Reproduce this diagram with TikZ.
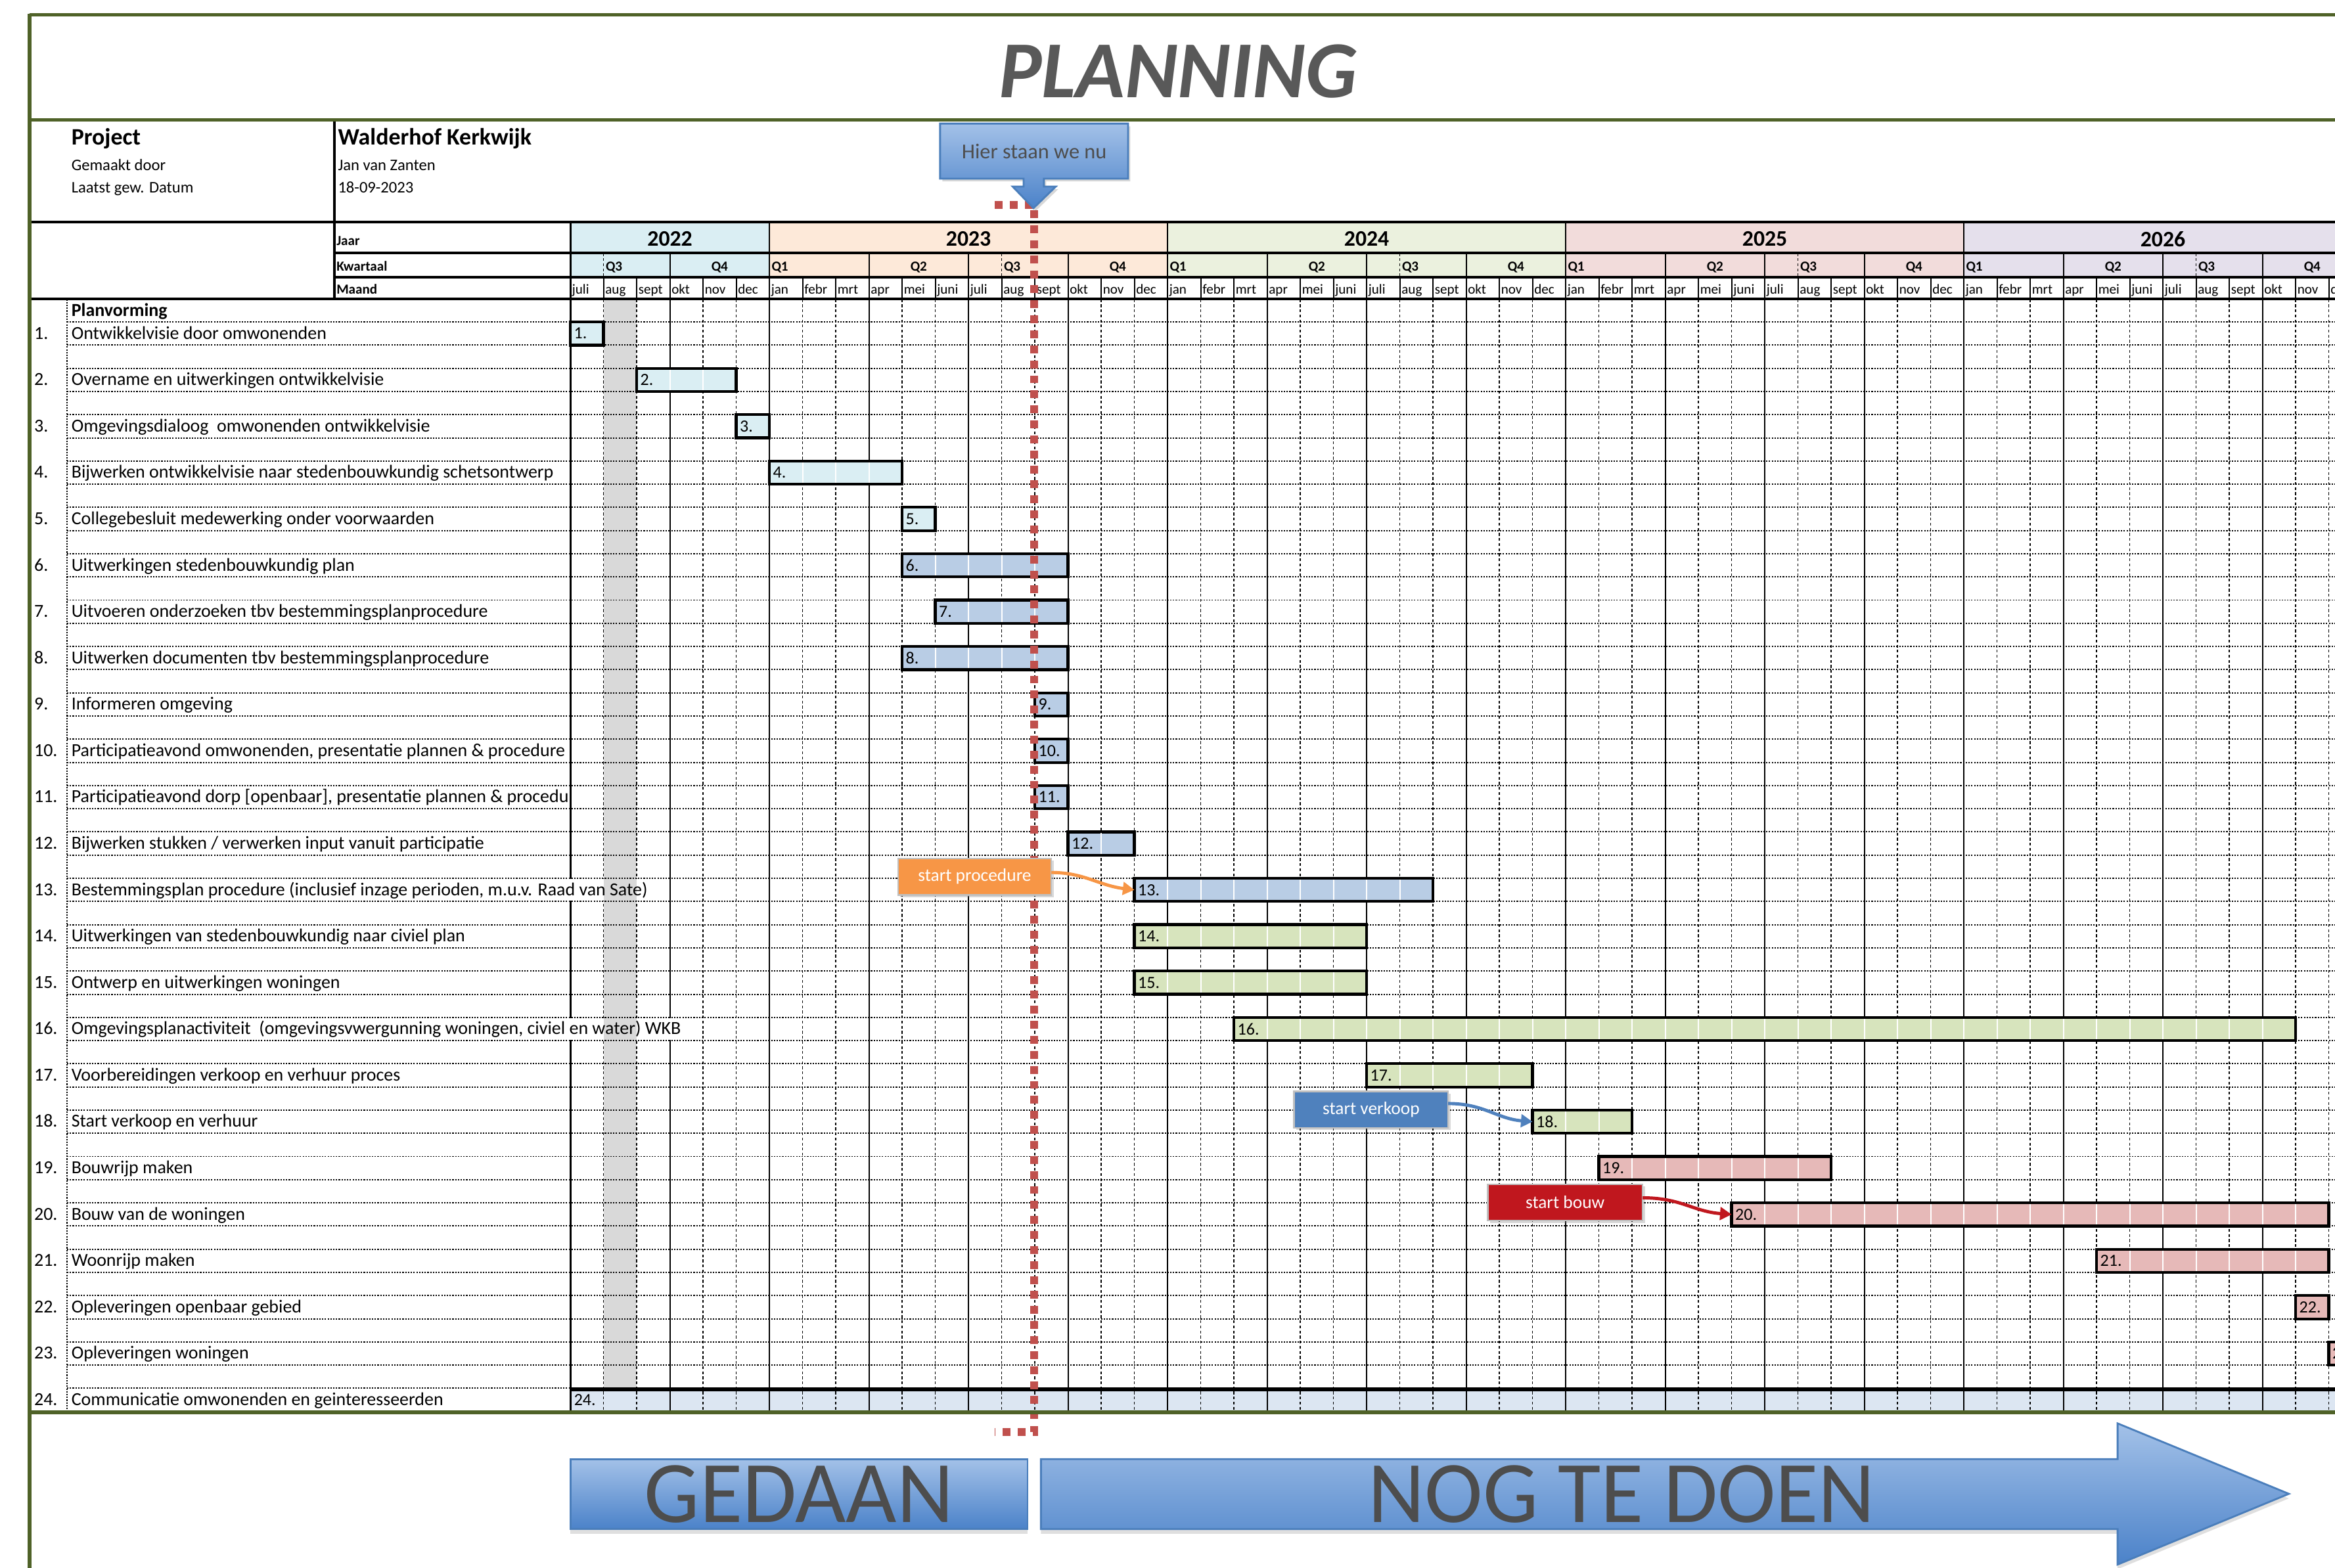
\documentclass[tikz,border=0pt]{standalone}
\usepackage{fontspec}
\setmainfont{Carlito}
\usetikzlibrary{arrows.meta,shadows}
\definecolor{framegreen}{HTML}{4F6228}
\definecolor{titlegray}{HTML}{595959}
\definecolor{yA}{HTML}{DAEEF3}
\definecolor{yB}{HTML}{FDE9D9}
\definecolor{yC}{HTML}{EBF1DE}
\definecolor{yD}{HTML}{F2DCDB}
\definecolor{yE}{HTML}{E5E0EC}
\definecolor{colgray}{HTML}{D9D9D9}
\definecolor{barcyan}{HTML}{DAEEF3}
\definecolor{barblue}{HTML}{B9CDE5}
\definecolor{bargreen}{HTML}{D7E4BD}
\definecolor{barpink}{HTML}{E6B9B8}
\definecolor{rowcomm}{HTML}{DCE6F2}
\definecolor{nowred}{HTML}{C0504D}
\definecolor{procorange}{HTML}{F79646}
\definecolor{salesblue}{HTML}{4F81BD}
\definecolor{buildred}{HTML}{C0171E}
\definecolor{hsTop}{HTML}{A3C1E8}
\definecolor{hsBot}{HTML}{4B82C9}
\definecolor{arrowedge}{HTML}{4A7EBB}
\definecolor{textdark}{HTML}{4D4D4D}
\definecolor{boxedge}{HTML}{BFBFBF}

\newcommand\tasknode[2]{%
  \node[tasktxt] (n#1) at (23,{224+31.14*(#1-1)+3.7}) {#1.};%
  \node[tasktxt] (t#1) at (48,{224+31.14*(#1-1)+3.7}) {#2};}

\newcommand\mkbar[4]{%
  \pgfmathsetmacro\bx{383+22.28*#2}%
  \pgfmathsetmacro\by{224+31.14*(#1-1)}%
  \node[ganttbar, fill=#4, minimum width={#3*22.28*0.022666cm}] (b#1) at (\bx,\by) {};%
  \ifnum#3>1
    \pgfmathtruncatemacro\bn{#3-1}%
    \foreach \j in {1,...,\bn}{\draw[white, line width=0.6pt] ({\bx+22.28*\j},{\by-6.9}) -- ({\bx+22.28*\j},{\by+6.9});}%
  \fi
  \node[barlbl, anchor=west] (bl#1) at ([xshift=1.6pt]b#1.west) {#1.};%
}

\begin{document}
\begin{tikzpicture}[x=0.022666cm, y=-0.022666cm,
  every node/.style={inner sep=0pt, outer sep=0pt},
  tasktxt/.style={anchor=base west, font=\fontsize{7.95}{9}\selectfont},
  hdrtxt/.style={anchor=base west, font=\fontsize{6}{7}\selectfont\bfseries},
  monthtxt/.style={anchor=base west, font=\fontsize{6}{7}\selectfont},
  qtxt/.style={font=\fontsize{6}{7}\selectfont\bfseries},
  yeartxt/.style={anchor=center, font=\fontsize{9.6}{11}\selectfont\bfseries},
  thickrule/.style={line width=1.1pt},
  gridsolid/.style={line width=0.55pt},
  griddash/.style={line width=0.45pt, dash pattern=on 1.2pt off 1pt},
  rowdot/.style={line width=0.55pt, dash pattern=on 0.6pt off 0.6pt},
  ganttbar/.style={draw=black, line width=1.2pt, anchor=west, minimum height=15.6*0.022666cm},
  barlbl/.style={font=\fontsize{7.4}{9}\selectfont},
  callbox/.style={draw=boxedge, line width=0.7pt, text=white, font=\fontsize{7.8}{9}\selectfont,
     minimum height=24.5*0.022666cm, drop shadow={opacity=0.3, shadow xshift=1pt, shadow yshift=-1pt}},
  callarrow/.style={line width=1.4pt, -{Triangle[length=5pt,width=5.5pt]}},
  greenline/.style={framegreen, line width=1.5pt},
  bigtxt/.style={font=\fontsize{38}{44}\selectfont, text=textdark},
]
\useasboundingbox (0,0) rectangle (1568,1053.1);
\fill[white] (0,0) rectangle (1568,1053.1);

% ---- header fills (Jaar + Kwartaal rows)
\foreach \a/\b/\c in {0/6/yA, 6/18/yB, 18/30/yC, 30/42/yD, 42/54/yE}
  \fill[\c] ({383+22.28*\a},149) rectangle ({383+22.28*\b},186);

% ---- gray column and communication row
\fill[colgray] ({383+22.28},201) rectangle ({383+22.28*2},932.4);
\fill[rowcomm] (383,932.4) rectangle (1568,948);

% ---- body vertical grid
\foreach \m in {1,...,54} {
  \pgfmathtruncatemacro\r{mod(\m,3)}
  \ifnum\r=0
    \draw[gridsolid] ({383+22.28*\m},201) -- ({383+22.28*\m},948);
  \else
    \draw[griddash] ({383+22.28*\m},201) -- ({383+22.28*\m},948);
  \fi
}
% ---- row dotted lines
\foreach \k in {1,...,23} {
  \draw[rowdot] (45,{224+31.14*(\k-1)-7.8}) -- (1568,{224+31.14*(\k-1)-7.8});
  \draw[rowdot] (45,{224+31.14*(\k-1)+7.8}) -- (1568,{224+31.14*(\k-1)+7.8});
}
\draw[rowdot] (45,932.4) -- (383,932.4);
\draw[rowdot] (45,201) -- (45,948);
\draw[line width=0.9pt] (383,149) -- (383,948);

% ---- overflowing task texts hide the cell borders
\foreach \k/\e in {13/449.3, 16/471.6} {
  \fill[white] (381.5,{224+31.14*(\k-1)-7.3}) rectangle (\e,{224+31.14*(\k-1)+7.3});
  \fill[colgray] ({383+22.28},{224+31.14*(\k-1)-7.3}) rectangle ({383+22.28*2},{224+31.14*(\k-1)+7.3});
}

% ---- header vertical lines
\foreach \m in {0,6,18,30,42,54}
  \draw[gridsolid] ({383+22.28*\m},149) -- ({383+22.28*\m},170);
\foreach \m in {0,...,54} {
  \draw[gridsolid] ({383+22.28*\m},186) -- ({383+22.28*\m},201);
  \pgfmathtruncatemacro\r{mod(\m,3)}
  \pgfmathtruncatemacro\q{mod(\m,12)}
  \ifnum\r=0 \draw[gridsolid] ({383+22.28*\m},170) -- ({383+22.28*\m},186); \fi
  \ifnum\q=1 \draw[griddash] ({383+22.28*\m},170) -- ({383+22.28*\m},186); \fi
}

% ---- header horizontal rules
\draw[thickrule] (19.7,149) -- (1568,149);
\draw[thickrule] (224.6,170) -- (1568,170);
\draw[thickrule] (224.6,186) -- (1568,186);
\draw[thickrule] (19.7,200.7) -- (1568,200.7);
\draw[line width=0.9pt] (224.6,80.4) -- (224.6,201);
\draw[line width=1.7pt] (383,933) -- (1568,933);

% ---- title and project info
\node[font=\fontsize{35}{40}\selectfont\bfseries\itshape, text=titlegray] (title) at (791,48) {PLANNING};
\node[anchor=base west, font=\fontsize{10.2}{12}\selectfont\bfseries] (proj) at (48,97.4) {Project};
\node[anchor=base west, font=\fontsize{7}{8}\selectfont] (made) at (48,114.7) {Gemaakt door};
\node[anchor=base west, font=\fontsize{7}{8}\selectfont] (last) at (48,129.7) {Laatst gew. Datum};
\node[anchor=base west, font=\fontsize{10.2}{12}\selectfont\bfseries] (pname) at (227,97.4) {Walderhof Kerkwijk};
\node[anchor=base west, font=\fontsize{7}{8}\selectfont] (author) at (227,114.7) {Jan van Zanten};
\node[anchor=base west, font=\fontsize{7}{8}\selectfont] (datev) at (227,129.7) {18-09-2023};

\node[hdrtxt] (lj) at (226,165) {Jaar};
\node[hdrtxt] (lk) at (226,182) {Kwartaal};
\node[hdrtxt] (lm) at (226,197.3) {Maand};

% ---- years
\foreach \a/\b/\yr in {0/6/2022, 6/18/2023, 18/30/2024, 30/42/2025, 42/54/2026}
  \node[yeartxt] (yr\yr) at ({383+22.28*(\a+\b)/2},160.6) {\yr};
% ---- quarters
\foreach \s [count=\yi] in {-6,6,18,30,42} {
  \ifnum\s>0
    \node[qtxt, anchor=base west] (qa\yi) at ({383+22.28*\s+1.5},182.2) {Q1};
    \node[qtxt, anchor=base] (qb\yi) at ({383+22.28*(\s+4.5)},182.2) {Q2};
  \fi
  \node[qtxt, anchor=base west] (qc\yi) at ({383+22.28*(\s+7)+1.5},182.2) {Q3};
  \node[qtxt, anchor=base] (qd\yi) at ({383+22.28*(\s+10.5)},182.2) {Q4};
}
% ---- months
\foreach \m in {0,...,53} {
  \pgfmathtruncatemacro\k{mod(\m+6,12)}
  \node[monthtxt] (mo\m) at ({383+22.28*\m+1.2},197.3)
    {\ifcase\k jan\or febr\or mrt\or apr\or mei\or juni\or juli\or aug\or sept\or okt\or nov\or dec\fi};
}

% ---- task list
\node[anchor=base west, font=\fontsize{7.95}{9}\selectfont\bfseries] (plan) at (48,212.5) {Planvorming};
\tasknode{1}{Ontwikkelvisie door omwonenden}
\tasknode{2}{Overname en uitwerkingen ontwikkelvisie}
\tasknode{3}{Omgevingsdialoog\ \ omwonenden ontwikkelvisie}
\tasknode{4}{Bijwerken ontwikkelvisie naar stedenbouwkundig schetsontwerp}
\tasknode{5}{Collegebesluit medewerking onder voorwaarden}
\tasknode{6}{Uitwerkingen stedenbouwkundig plan}
\tasknode{7}{Uitvoeren onderzoeken tbv bestemmingsplanprocedure}
\tasknode{8}{Uitwerken documenten tbv bestemmingsplanprocedure}
\tasknode{9}{Informeren omgeving}
\tasknode{10}{Participatieavond omwonenden, presentatie plannen \& procedure}
\tasknode{11}{Participatieavond dorp [openbaar], presentatie plannen \& procedu}
\tasknode{12}{Bijwerken stukken / verwerken input vanuit participatie}
\tasknode{13}{Bestemmingsplan procedure (inclusief inzage perioden, m.u.v. Raad van Sate)}
\tasknode{14}{Uitwerkingen van stedenbouwkundig naar civiel plan}
\tasknode{15}{Ontwerp en uitwerkingen woningen}
\tasknode{16}{Omgevingsplanactiviteit\ \ (omgevingsvwergunning woningen, civiel en water) WKB}
\tasknode{17}{Voorbereidingen verkoop en verhuur proces}
\tasknode{18}{Start verkoop en verhuur}
\tasknode{19}{Bouwrijp maken}
\tasknode{20}{Bouw van de woningen}
\tasknode{21}{Woonrijp maken}
\tasknode{22}{Opleveringen openbaar gebied}
\tasknode{23}{Opleveringen woningen}
\tasknode{24}{Communicatie omwonenden en geinteresseerden}
\node[barlbl, anchor=base west] (bl24) at (385.5,943.9) {24.};

% ---- bars
\mkbar{1}{0}{1}{barcyan}
\mkbar{2}{2}{3}{barcyan}
\mkbar{3}{5}{1}{barcyan}
\mkbar{4}{6}{4}{barcyan}
\mkbar{5}{10}{1}{barcyan}
\mkbar{6}{10}{5}{barblue}
\mkbar{7}{11}{4}{barblue}
\mkbar{8}{10}{5}{barblue}
\mkbar{9}{14}{1}{barblue}
\mkbar{10}{14}{1}{barblue}
\mkbar{11}{14}{1}{barblue}
\mkbar{12}{15}{2}{barblue}
\mkbar{13}{17}{9}{barblue}
\mkbar{14}{17}{7}{bargreen}
\mkbar{15}{17}{7}{bargreen}
\mkbar{16}{20}{32}{bargreen}
\mkbar{17}{24}{5}{bargreen}
\mkbar{18}{29}{3}{bargreen}
\mkbar{19}{31}{7}{barpink}
\mkbar{20}{35}{18}{barpink}
\mkbar{21}{46}{7}{barpink}
\mkbar{22}{52}{1}{barpink}
\mkbar{23}{53}{1}{barpink}

% ---- "now" line
\draw[nowred, line width=3.4pt, dash pattern=on 3.4pt off 3.1pt] (668,137.5) -- (694.5,137.5) -- (694.5,962) -- (668,962);

% ---- "Hier staan we nu" callout
\path[draw=arrowedge, line width=0.8pt, top color=hsTop, bottom color=hsBot,
      drop shadow={opacity=0.3, shadow xshift=1pt, shadow yshift=-1.2pt}]
  (631.3,83) -- (757.5,83) -- (757.5,120) -- (701,120) -- (701,125.3) -- (709,125.3)
  -- (694,139.8) -- (680,125.3) -- (687.4,125.3) -- (687.4,120) -- (631.3,120) -- cycle;
\node[font=\fontsize{9.2}{11}\selectfont, text=textdark] (nowlbl) at (694.5,101.5) {Hier staan we nu};

% ---- milestone callouts
\node[callbox, fill=procorange, minimum width=103*0.022666cm] (cproc) at (654.5,588.8) {start procedure};
\node[callbox, fill=salesblue, minimum width=103.5*0.022666cm] (csale) at (920.7,745.2) {start verkoop};
\node[callbox, fill=buildred, minimum width=104*0.022666cm] (cbuild) at (1051,807.6) {start bouw};
\draw[callarrow, procorange] ([yshift=1.8pt]cproc.east) .. controls +(22,0) and +(-24,-3) .. (b13.west);
\draw[callarrow, salesblue] ([yshift=2.6pt]csale.east) .. controls +(24,0) and +(-24,-2) .. (b18.west);
\draw[callarrow, buildred] ([yshift=2pt]cbuild.east) .. controls +(26,0) and +(-26,-2) .. (b20.west);

% ---- bottom arrows
\node[draw=arrowedge, line width=0.8pt, top color=hsTop, bottom color=hsBot,
      minimum width=307*0.022666cm, minimum height=47*0.022666cm,
      drop shadow={opacity=0.25, shadow xshift=0pt, shadow yshift=-2pt}] (gedaanbox) at (536.5,1003.5) {};
\node[bigtxt] (gedaan) at (536.5,1003.5) {GEDAAN};
\path[draw=arrowedge, line width=0.8pt, top color=hsTop, bottom color=hsBot,
      drop shadow={opacity=0.25, shadow xshift=0pt, shadow yshift=-2pt}]
  (699,980) -- (1422,980) -- (1422,956) -- (1537,1003.3) -- (1422,1050.8) -- (1422,1027) -- (699,1027) -- cycle;
\node[bigtxt] (todo) at (1089,1003.5) {NOG TE DOEN};

% ---- frame
\draw[greenline] (19.7,10) -- (1568,10);
\draw[greenline] (19.7,80.4) -- (1568,80.4);
\draw[greenline] (19.7,948.6) -- (1568,948.6);
\draw[framegreen, line width=1.7pt] (19.7,9.3) -- (19.7,1053.1);
\end{tikzpicture}
\end{document}
